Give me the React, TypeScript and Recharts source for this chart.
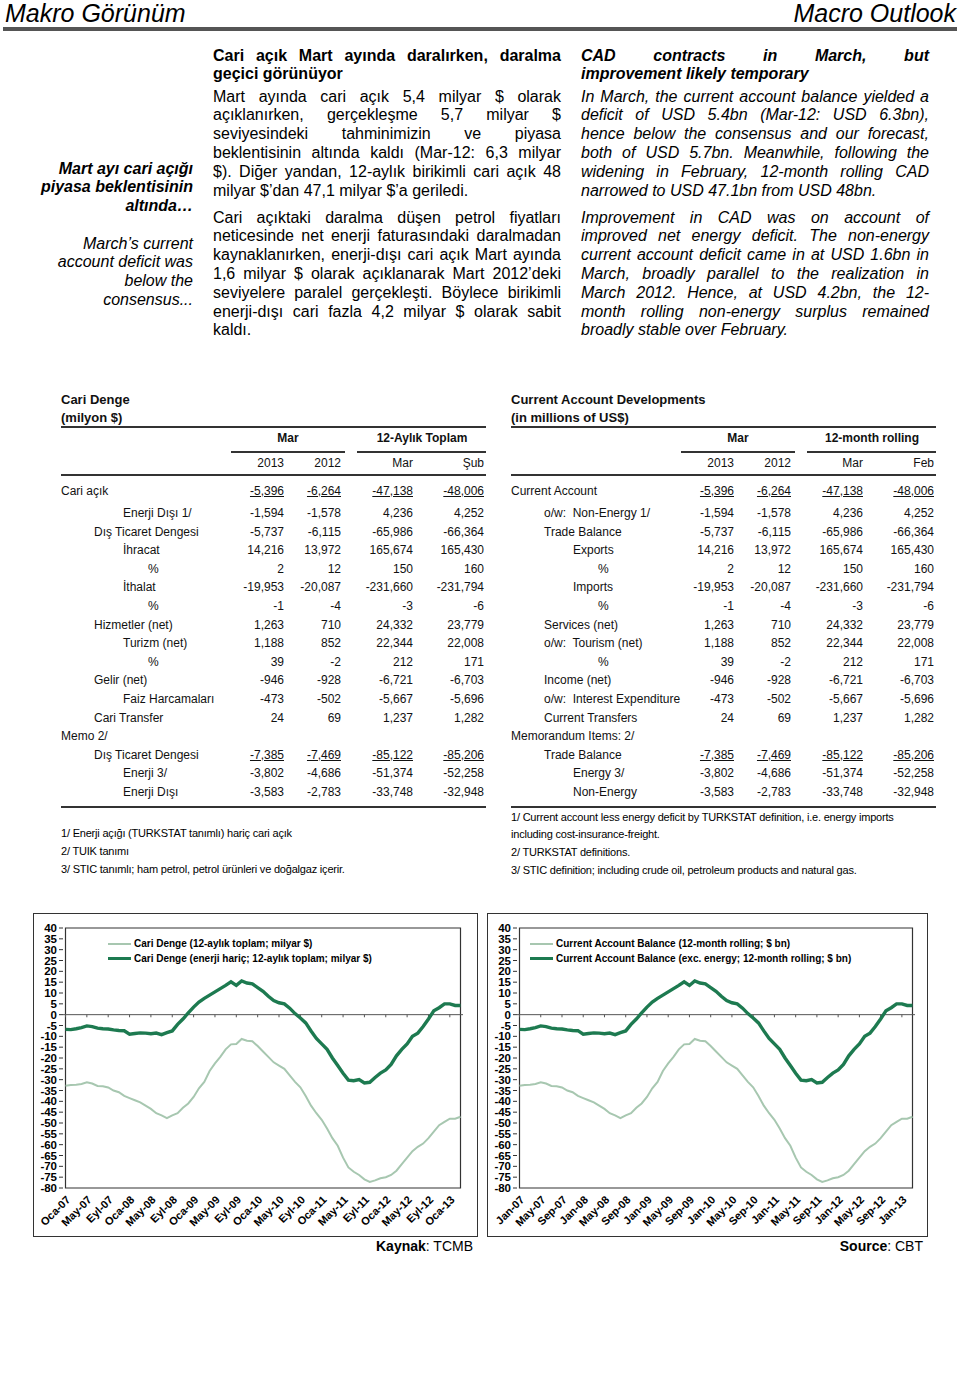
import {
  LineChart,
  Line,
  XAxis,
  YAxis,
  ReferenceLine,
  ReferenceArea,
  Legend,
} from "recharts";

// 12-month rolling current account, Jan-07 .. Mar-13 (USD bn)
const caTotal = [
  -32.8, -32.5, -32.3, -32.0, -31.2, -31.8, -32.9, -33.0, -33.6, -35.0, -35.8, -37.5,
  -38.5, -39.5, -40.5, -42.0, -43.5, -45.5, -46.5, -47.8, -46.5, -45.5, -43.0, -41.0,
  -38.0, -34.0, -31.0, -26.0, -22.5, -19.5, -16.0, -13.7, -13.5, -11.2, -12.0, -12.3,
  -14.5, -17.0, -19.5, -22.0, -23.5, -25.0, -28.0, -31.0, -33.5, -37.5, -42.0, -45.5,
  -48.5, -52.5, -57.0, -60.5, -66.0, -70.5, -72.5, -74.0, -76.0, -77.2, -76.5, -75.5,
  -75.0, -74.0, -72.0, -69.0, -66.0, -63.0, -61.0, -59.5, -57.0, -54.0, -51.0, -49.5,
  -48.0, -48.0, -47.1,
];

// same, excluding energy
const caExEnergy = [
  -6.8, -6.9, -6.5, -6.0, -5.2, -5.5, -6.2, -6.5, -6.6, -7.0, -7.3, -7.4,
  -9.0, -8.7, -8.4, -8.5, -8.8, -8.5, -9.2, -8.3, -7.5, -4.5, -2.0, 0.8,
  3.5, 5.8, 7.5, 9.0, 10.5, 12.0, 13.5, 15.2, 13.5, 15.6, 14.6, 14.2,
  12.5, 10.8, 8.5, 6.5, 5.5, 5.0, 3.0, 0.5, -1.5, -3.8, -7.5, -11.0,
  -13.5, -16.0, -20.0, -23.5, -27.0, -30.2, -30.5, -30.0, -31.5, -31.2, -29.0, -27.0,
  -25.5, -23.0, -19.0, -16.0, -13.5, -10.0, -8.5, -5.5, -2.0, 1.8, 3.2, 5.0,
  5.0, 4.25, 4.2,
];

const trMonths = ["Oca", "Şub", "Mar", "Nis", "May", "Haz", "Tem", "Ağu", "Eyl", "Eki", "Kas", "Ara"];
const enMonths = ["Jan", "Feb", "Mar", "Apr", "May", "Jun", "Jul", "Aug", "Sep", "Oct", "Nov", "Dec"];
const years = ["07", "08", "09", "10", "11", "12", "13"];

const yTicks = [
  -80, -75, -70, -65, -60, -55, -50, -45, -40, -35, -30, -25, -20, -15, -10, -5,
  0, 5, 10, 15, 20, 25, 30, 35, 40,
];

// tables
const colsTr = ["2013", "2012", "Mar", "Şub"];
const colsEn = ["2013", "2012", "Mar", "Feb"];
const labelsTr = [
  "Cari açık", "Enerji Dışı 1/", "Dış Ticaret Dengesi", "İhracat", "%", "İthalat", "%",
  "Hizmetler (net)", "Turizm (net)", "%", "Gelir (net)", "Faiz Harcamaları", "Cari Transfer",
  "Memo 2/", "Dış Ticaret Dengesi", "Enerji 3/", "Enerji Dışı",
];
const indentTr = [0, 2, 1, 2, 3, 2, 3, 1, 2, 3, 1, 2, 1, 0, 1, 2, 2];
const labelsEn = [
  "Current Account", "o/w:  Non-Energy 1/", "Trade Balance", "Exports", "%", "Imports", "%",
  "Services (net)", "o/w:  Tourism (net)", "%", "Income (net)", "o/w:  Interest Expenditure",
  "Current Transfers", "Memorandum Items: 2/", "Trade Balance", "Energy 3/", "Non-Energy",
];
const indentEn = [0, 1, 1, 2, 3, 2, 3, 1, 1, 3, 1, 1, 1, 0, 1, 2, 2];
const tableValues = [
  ["-5,396", "-6,264", "-47,138", "-48,006"],
  ["-1,594", "-1,578", "4,236", "4,252"],
  ["-5,737", "-6,115", "-65,986", "-66,364"],
  ["14,216", "13,972", "165,674", "165,430"],
  ["2", "12", "150", "160"],
  ["-19,953", "-20,087", "-231,660", "-231,794"],
  ["-1", "-4", "-3", "-6"],
  ["1,263", "710", "24,332", "23,779"],
  ["1,188", "852", "22,344", "22,008"],
  ["39", "-2", "212", "171"],
  ["-946", "-928", "-6,721", "-6,703"],
  ["-473", "-502", "-5,667", "-5,696"],
  ["24", "69", "1,237", "1,282"],
  [],
  ["-7,385", "-7,469", "-85,122", "-85,206"],
  ["-3,802", "-4,686", "-51,374", "-52,258"],
  ["-3,583", "-2,783", "-33,748", "-32,948"],
];
const underlinedRows = [0, 14];

const FONT = "'Liberation Sans', Arial, Helvetica, sans-serif";
const DARK = "#1d7a50";
const LIGHT = "#a7c7b0";

function buildData(months: string[]) {
  const rows: { label: string; total: number; exEnergy: number }[] = [];
  let i = 0;
  years.forEach((yy) => {
    months.forEach((m) => {
      if (i < caTotal.length) {
        rows.push({ label: `${m}-${yy}`, total: caTotal[i], exEnergy: caExEnergy[i] });
        i++;
      }
    });
  });
  return rows;
}

const dataTr = buildData(trMonths);
const dataEn = buildData(enMonths);

function JText({ lines, style }: { lines: string[]; style: React.CSSProperties }) {
  return (
    <div style={style}>
      {lines.map((l, i) => (
        <div
          key={i}
          style={{
            textAlign: "justify",
            textAlignLast: i === lines.length - 1 ? "left" : "justify",
          }}
        >
          {l}
        </div>
      ))}
    </div>
  );
}

function CADChart({
  left,
  width,
  rightMargin,
  data,
  names,
  legendLeft,
  source,
}: {
  left: number;
  width: number;
  rightMargin: number;
  data: { label: string; total: number; exEnergy: number }[];
  names: [string, string];
  legendLeft: number;
  source: [string, string];
}) {
  const tickCats = data.filter((_, i) => i % 4 === 0).map((d) => d.label);
  return (
    <>
      <div
        style={{
          position: "absolute",
          left,
          top: 913,
          width: width - 2,
          height: 322,
          border: "1px solid #333",
        }}
      />
      <div style={{ position: "absolute", left, top: 913 }}>
        <LineChart
          width={width}
          height={324}
          data={data}
          margin={{ top: 15, right: rightMargin, left: 0, bottom: 0 }}
        >
          <XAxis
            dataKey="label"
            interval={3}
            height={49}
            axisLine={false}
            tickLine={false}
            tickSize={5}
            tickMargin={2}
            padding={{ left: 2.5, right: 2.5 }}
            angle={-45}
            textAnchor="end"
            tick={{ fontSize: 11, fontWeight: "bold", fill: "#000", fontFamily: FONT }}
          />
          <YAxis
            width={30}
            domain={[-80, 40]}
            ticks={yTicks}
            interval={0}
            axisLine={false}
            tickSize={4}
            tickMargin={2}
            tickLine={{ stroke: "#333" }}
            tick={{ fontSize: 11.5, fontWeight: "bold", fill: "#000", fontFamily: FONT }}
          />
          <ReferenceArea y1={-80} y2={40} fill="none" stroke="#333" strokeWidth={1.2} />
          <ReferenceLine y={0} stroke="#555" strokeWidth={1} />
          {tickCats.map((c) => (
            <ReferenceLine
              key={c}
              segment={[
                { x: c, y: 0 },
                { x: c, y: -1.2 },
              ]}
              stroke="#555"
            />
          ))}
          <Legend
            layout="vertical"
            align="center"
            verticalAlign="middle"
            wrapperStyle={{ left: legendLeft, top: 23, width: "auto", height: "auto" }}
            content={() => (
              <div style={{ fontFamily: FONT, fontSize: 10, fontWeight: "bold", color: "#000" }}>
                {[
                  { n: names[0], c: LIGHT, w: 2 },
                  { n: names[1], c: DARK, w: 3.5 },
                ].map((it) => (
                  <div key={it.n} style={{ display: "flex", alignItems: "center", height: 15 }}>
                    <span
                      style={{
                        display: "inline-block",
                        width: 23,
                        height: it.w,
                        background: it.c,
                        marginRight: 3,
                      }}
                    />
                    {it.n}
                  </div>
                ))}
              </div>
            )}
          />
          <Line
            type="linear"
            dataKey="total"
            name={names[0]}
            stroke={LIGHT}
            strokeWidth={2}
            dot={false}
            isAnimationActive={false}
          />
          <Line
            type="linear"
            dataKey="exEnergy"
            name={names[1]}
            stroke={DARK}
            strokeWidth={3.4}
            dot={false}
            isAnimationActive={false}
          />
        </LineChart>
      </div>
      <div
        style={{
          position: "absolute",
          left,
          top: 1237,
          width: width - 5,
          textAlign: "right",
          fontSize: 14,
          lineHeight: "18px",
          color: "#000",
        }}
      >
        <b>{source[0]}</b>: {source[1]}
      </div>
    </>
  );
}

function DataTable({
  left,
  title,
  subtitle,
  group2,
  cols,
  labels,
  indent,
}: {
  left: number;
  title: string;
  subtitle: string;
  group2: string;
  cols: string[];
  labels: string[];
  indent: number[];
}) {
  const indents = [0, 33, 62, 87];
  const colRight = [223, 280, 352, 423];
  const rowY = (i: number) => (i === 0 ? 491 : 513 + (i - 1) * 18.6);
  const rule = (top: number, l: number, w: number) => (
    <div style={{ position: "absolute", left: l, top, width: w, height: 2, background: "#333" }} />
  );
  return (
    <div style={{ position: "absolute", left, top: 0, fontSize: 12, color: "#111" }}>
      <div style={{ position: "absolute", top: 391, left: 0, fontWeight: "bold", fontSize: 13, lineHeight: "18px", whiteSpace: "nowrap" }}>
        {title}
        <br />
        {subtitle}
      </div>
      {rule(426, 0, 425)}
      <div style={{ position: "absolute", top: 431, left: 170, width: 114, textAlign: "center", fontWeight: "bold" }}>Mar</div>
      <div style={{ position: "absolute", top: 431, left: 296, width: 130, textAlign: "center", fontWeight: "bold" }}>{group2}</div>
      {rule(451, 170, 114)}
      {rule(451, 296, 129)}
      {cols.map((c, j) => (
        <div key={j} style={{ position: "absolute", top: 456, left: colRight[j] - 60, width: 60, textAlign: "right" }}>
          {c}
        </div>
      ))}
      {rule(474, 0, 425)}
      {labels.map((lab, i) => (
        <div key={i}>
          <div style={{ position: "absolute", top: rowY(i) - 7, left: indents[indent[i]], whiteSpace: "pre" }}>{lab}</div>
          {tableValues[i].map((v, j) => (
            <div
              key={j}
              style={{
                position: "absolute",
                top: rowY(i) - 7,
                left: colRight[j] - 70,
                width: 70,
                textAlign: "right",
                textDecoration: underlinedRows.includes(i) ? "underline" : "none",
              }}
            >
              {v}
            </div>
          ))}
        </div>
      ))}
      {rule(806, 0, 425)}
    </div>
  );
}

export default function App() {
  const body: React.CSSProperties = { fontSize: 16, lineHeight: "18.8px", color: "#000" };
  return (
    <div
      style={{
        position: "absolute",
        left: 0,
        top: 0,
        width: 960,
        height: 1379,
        background: "#fff",
        fontFamily: FONT,
        overflow: "hidden",
      }}
    >
      {/* header */}
      <div style={{ position: "absolute", left: 5, top: 1, fontSize: 25, lineHeight: "25px", fontStyle: "italic" }}>Makro Görünüm</div>
      <div style={{ position: "absolute", right: 4, top: 1, fontSize: 25, lineHeight: "25px", fontStyle: "italic" }}>Macro Outlook</div>
      <div style={{ position: "absolute", left: 3, top: 27, width: 954, height: 4, background: "#555" }} />

      {/* side notes */}
      <div style={{ position: "absolute", left: 20, top: 159.6, width: 173, textAlign: "right", fontSize: 16, lineHeight: "18.7px", fontWeight: "bold", fontStyle: "italic" }}>
        Mart ayı cari açığı
        <br />
        piyasa beklentisinin
        <br />
        altında…
      </div>
      <div style={{ position: "absolute", left: 20, top: 234.6, width: 173, textAlign: "right", fontSize: 16, lineHeight: "18.8px", fontStyle: "italic" }}>
        March’s current
        <br />
        account deficit was
        <br />
        below the
        <br />
        consensus...
      </div>

      {/* Turkish column */}
      <JText
        lines={["Cari açık Mart ayında daralırken, daralma", "geçici görünüyor"]}
        style={{ ...body, position: "absolute", left: 213, top: 46.6, width: 348, fontWeight: "bold" }}
      />
      <JText
        lines={[
          "Mart ayında cari açık 5,4 milyar $ olarak",
          "açıklanırken, gerçekleşme 5,7 milyar $",
          "seviyesindeki tahminimizin ve piyasa",
          "beklentisinin altında kaldı (Mar-12: 6,3 milyar",
          "$). Diğer yandan, 12-aylık birikimli cari açık 48",
          "milyar $’dan 47,1 milyar $’a geriledi.",
        ]}
        style={{ ...body, position: "absolute", left: 213, top: 87.6, width: 348 }}
      />
      <JText
        lines={[
          "Cari açıktaki daralma düşen petrol fiyatları",
          "neticesinde net enerji faturasındaki daralmadan",
          "kaynaklanırken, enerji-dışı cari açık Mart ayında",
          "1,6 milyar $ olarak açıklanarak Mart 2012’deki",
          "seviyelere paralel gerçekleşti. Böylece birikimli",
          "enerji-dışı cari fazla 4,2 milyar $ olarak sabit",
          "kaldı.",
        ]}
        style={{ ...body, position: "absolute", left: 213, top: 208.6, width: 348 }}
      />

      {/* English column */}
      <JText
        lines={["CAD contracts in March, but", "improvement likely temporary"]}
        style={{ ...body, position: "absolute", left: 581, top: 46.6, width: 348, fontWeight: "bold", fontStyle: "italic" }}
      />
      <JText
        lines={[
          "In March, the current account balance yielded a",
          "deficit of USD 5.4bn (Mar-12: USD 6.3bn),",
          "hence below the consensus and our forecast,",
          "both of USD 5.7bn. Meanwhile, following the",
          "widening in February, 12-month rolling CAD",
          "narrowed to USD 47.1bn from USD 48bn.",
        ]}
        style={{ ...body, position: "absolute", left: 581, top: 87.6, width: 348, fontStyle: "italic" }}
      />
      <JText
        lines={[
          "Improvement in CAD was on account of",
          "improved net energy deficit. The non-energy",
          "current account deficit came in at USD 1.6bn in",
          "March, broadly parallel to the realization in",
          "March 2012. Hence, at USD 4.2bn, the 12-",
          "month rolling non-energy surplus remained",
          "broadly stable over February.",
        ]}
        style={{ ...body, position: "absolute", left: 581, top: 208.6, width: 348, fontStyle: "italic" }}
      />

      {/* tables */}
      <DataTable
        left={61}
        title="Cari Denge"
        subtitle="(milyon $)"
        group2="12-Aylık Toplam"
        cols={colsTr}
        labels={labelsTr}
        indent={indentTr}
      />
      <DataTable
        left={511}
        title="Current  Account Developments"
        subtitle="(in millions of US$)"
        group2="12-month rolling"
        cols={colsEn}
        labels={labelsEn}
        indent={indentEn}
      />

      {/* footnotes */}
      <div style={{ position: "absolute", left: 61, top: 824, fontFamily: "'Liberation Sans Narrow', " + FONT, fontSize: 11, lineHeight: "18px", letterSpacing: -0.2 }}>
        1/ Enerji açığı (TURKSTAT tanımlı) hariç cari açık
        <br />
        2/ TUIK tanımı
        <br />
        3/ STIC tanımlı; ham petrol, petrol ürünleri ve doğalgaz içerir.
      </div>
      <div style={{ position: "absolute", left: 511, top: 809, fontFamily: "'Liberation Sans Narrow', " + FONT, fontSize: 11, lineHeight: "17px", letterSpacing: -0.2 }}>
        1/ Current account less energy deficit by TURKSTAT definition, i.e. energy imports
        <br />
        including cost-insurance-freight.
        <div style={{ height: 1 }} />
        2/ TURKSTAT definitions.
        <div style={{ height: 1 }} />
        3/ STIC definition; including crude oil, petroleum products and natural gas.
      </div>

      {/* charts */}
      <CADChart
        left={33}
        width={445}
        rightMargin={15}
        data={dataTr}
        names={["Cari Denge (12-aylık toplam; milyar $)", "Cari Denge (enerji hariç; 12-aylık toplam; milyar $)"]}
        legendLeft={75}
        source={["Kaynak", "TCMB"]}
      />
      <CADChart
        left={487}
        width={441}
        rightMargin={13}
        data={dataEn}
        names={["Current Account Balance (12-month rolling; $ bn)", "Current Account Balance (exc. energy; 12-month rolling; $ bn)"]}
        legendLeft={43}
        source={["Source", "CBT"]}
      />
    </div>
  );
}
